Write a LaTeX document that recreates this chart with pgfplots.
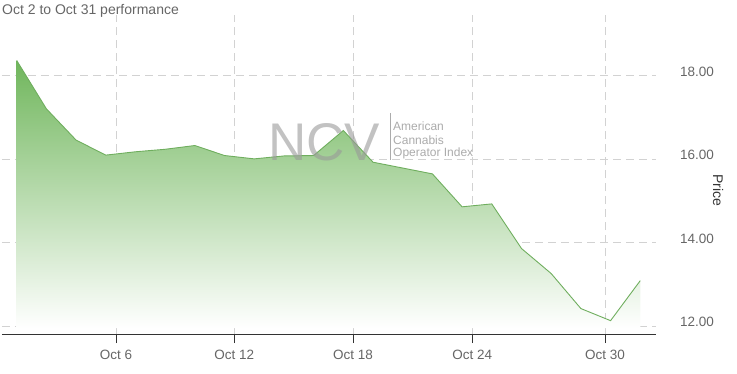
\documentclass[border=0pt]{standalone}
\usepackage{pgfplots}
\pgfplotsset{compat=1.18}
\usepackage{fontspec}
\setmainfont{Liberation Sans}
\definecolor{gridc}{HTML}{D2D2D2}
\definecolor{labc}{HTML}{666666}
\definecolor{axc}{HTML}{333333}
\definecolor{linegr}{HTML}{6FAE5E}
\definecolor{topgr}{RGB}{112,182,92}
\definecolor{midgr}{RGB}{176,216,165}
\definecolor{wmc}{HTML}{999999}
\definecolor{wmt}{HTML}{ABABAB}
\begin{document}
\begin{tikzpicture}[x=1pt,y=1pt]
\path[use as bounding box] (0,0) rectangle (737,373);
\begin{axis}[
  at={(2pt,39pt)}, anchor=south west,
  scale only axis, width=654pt, height=319pt,
  xmin=-0.495, xmax=21.53, ymin=11.81, ymax=19.46,
  axis x line*=bottom, axis y line*=right,
  x axis line style={-, draw=axc, line width=0.8pt},
  y axis line style={draw=none},
  xtick={3.343,7.327,11.33,15.34,19.81},
  xticklabels={Oct 6,Oct 12,Oct 18,Oct 24,Oct 30},
  ytick={12,14,16,18},
  /pgf/number format/assume math mode=true,
  yticklabel={\pgfmathprintnumber[fixed,fixed zerofill,precision=2]{\tick}},
  xtick style={draw=axc, line width=0.8pt},
  ytick style={draw=none},
  tick align=outside,
  major tick length=9pt,
  xticklabel style={font=\fontsize{13.5}{16}\selectfont, text=labc, anchor=base, yshift=-16pt},
  yticklabel style={font=\fontsize{13.5}{16}\selectfont, text=labc, anchor=west, xshift=11.5pt, yshift=4pt},
  xmajorgrids, ymajorgrids,
  major grid style={draw=gridc, line width=0.8pt, dash pattern=on 8pt off 5pt},
]
\addplot[draw=none, top color=topgr, middle color=midgr, bottom color=white] table {
x y
0 18.37
1 17.21
2 16.46
3 16.10
4 16.18
5 16.24
6 16.33
7 16.09
8 16.01
9 16.08
10 16.09
11 16.69
12 15.93
13 15.79
14 15.65
15 14.86
16 14.93
17 13.86
18 13.26
19 12.42
20 12.13
21 13.09
21 11.95
0 11.95
} -- cycle;
\addplot[draw=linegr, line width=0.9pt] table {
x y
0 18.37
1 17.21
2 16.46
3 16.10
4 16.18
5 16.24
6 16.33
7 16.09
8 16.01
9 16.08
10 16.09
11 16.69
12 15.93
13 15.79
14 15.65
15 14.86
16 14.93
17 13.86
18 13.26
19 12.42
20 12.13
21 13.09
};
\end{axis}
% watermark
\node[anchor=base west, inner sep=0, text=wmc, opacity=0.6, font=\fontsize{53}{60}\selectfont] at (268,213) {NCV};
\draw[draw=wmt, line width=0.7pt] (390,260) -- (390,213);
\node[anchor=base west, inner sep=0, text=wmt, font=\fontsize{12}{13}\selectfont] at (393,242) {American};
\node[anchor=base west, inner sep=0, text=wmt, font=\fontsize{12}{13}\selectfont] at (393,229) {Cannabis};
\node[anchor=base west, inner sep=0, text=wmt, font=\fontsize{12}{13}\selectfont] at (393,216) {Operator Index};
% title and axis title
\node[anchor=base west, inner sep=0, text=labc, font=\fontsize{14}{16}\selectfont] at (2,358) {Oct 2 to Oct 31 performance};
\node[rotate=-90, inner sep=0, text=axc, font=\fontsize{14}{16}\selectfont] at (718,183) {Price};
\end{tikzpicture}
\end{document}
